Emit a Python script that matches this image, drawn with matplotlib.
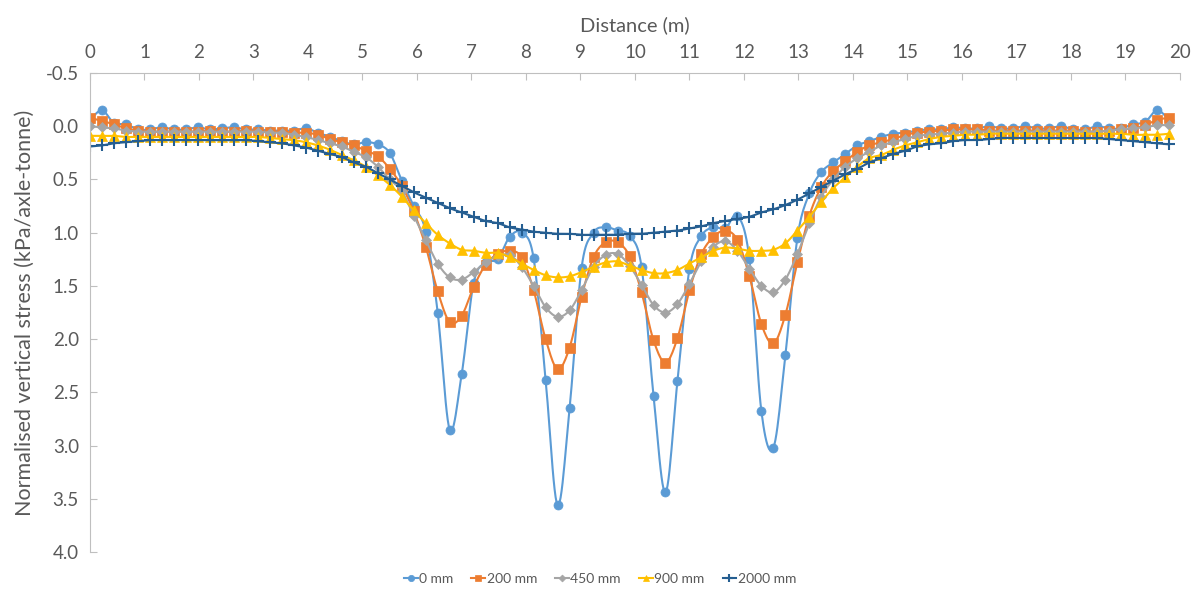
import numpy as np
import matplotlib
matplotlib.use('Agg')
import matplotlib.pyplot as plt

# distance along the section, one reading every 0.22 m
distance = np.round(np.arange(91) * 0.22, 2)

stress_0 = [-0.06, -0.15, -0.03, -0.02, 0.03, 0.03, 0.01, 0.03, 0.03, 0.01,
            0.03, 0.02, 0.01, 0.03, 0.03, 0.04, 0.04, 0.04, 0.02, 0.06,
            0.10, 0.14, 0.17, 0.15, 0.17, 0.25, 0.51, 0.75, 0.99, 1.75,
            2.85, 2.33, 1.47, 1.28, 1.25, 1.04, 1.00, 1.24, 2.38, 3.56,
            2.65, 1.33, 1.00, 0.95, 0.98, 1.03, 1.32, 2.53, 3.44, 2.39,
            1.34, 1.03, 0.95, 0.96, 0.84, 1.25, 2.68, 3.02, 2.15, 1.05,
            0.63, 0.43, 0.34, 0.26, 0.18, 0.14, 0.10, 0.07, 0.06, 0.04,
            0.03, 0.03, 0.01, 0.02, 0.02, 0.00, 0.02, 0.02, 0.00, 0.02,
            0.02, 0.00, 0.03, 0.03, 0.00, 0.02, 0.02, -0.02, -0.04, -0.15,
            -0.06]
stress_200 = [-0.08, -0.05, -0.02, 0.02, 0.04, 0.05, 0.05, 0.05, 0.05, 0.05,
              0.04, 0.05, 0.05, 0.04, 0.05, 0.05, 0.05, 0.06, 0.06, 0.08,
              0.12, 0.15, 0.18, 0.23, 0.28, 0.40, 0.56, 0.80, 1.13, 1.55,
              1.84, 1.78, 1.51, 1.30, 1.20, 1.17, 1.23, 1.54, 2.00, 2.28,
              2.08, 1.60, 1.23, 1.09, 1.09, 1.22, 1.56, 2.01, 2.22, 1.99,
              1.54, 1.20, 1.04, 0.98, 1.07, 1.41, 1.86, 2.04, 1.77, 1.28,
              0.84, 0.57, 0.42, 0.33, 0.24, 0.18, 0.15, 0.12, 0.08, 0.06,
              0.05, 0.04, 0.03, 0.03, 0.03, 0.04, 0.04, 0.04, 0.04, 0.04,
              0.04, 0.04, 0.04, 0.05, 0.05, 0.04, 0.03, 0.02, -0.01, -0.06,
              -0.08]
stress_450 = [0.00, 0.01, 0.02, 0.04, 0.05, 0.05, 0.05, 0.05, 0.05, 0.05,
              0.05, 0.05, 0.05, 0.05, 0.05, 0.06, 0.06, 0.08, 0.10, 0.13,
              0.16, 0.19, 0.24, 0.29, 0.38, 0.50, 0.61, 0.84, 1.07, 1.29,
              1.42, 1.44, 1.37, 1.28, 1.22, 1.21, 1.32, 1.50, 1.70, 1.79,
              1.73, 1.54, 1.32, 1.21, 1.20, 1.31, 1.49, 1.68, 1.75, 1.67,
              1.48, 1.27, 1.13, 1.08, 1.17, 1.34, 1.50, 1.56, 1.44, 1.20,
              0.91, 0.66, 0.50, 0.38, 0.30, 0.24, 0.18, 0.15, 0.12, 0.09,
              0.08, 0.07, 0.06, 0.05, 0.05, 0.05, 0.05, 0.05, 0.05, 0.05,
              0.05, 0.05, 0.05, 0.05, 0.05, 0.04, 0.03, 0.02, 0.01, -0.01,
              -0.01]
stress_900 = [0.09, 0.09, 0.09, 0.10, 0.10, 0.10, 0.10, 0.10, 0.10, 0.10,
              0.10, 0.10, 0.10, 0.10, 0.10, 0.11, 0.12, 0.13, 0.15, 0.18,
              0.22, 0.27, 0.32, 0.38, 0.46, 0.55, 0.66, 0.79, 0.91, 1.02,
              1.10, 1.16, 1.17, 1.19, 1.19, 1.23, 1.29, 1.35, 1.40, 1.42,
              1.41, 1.37, 1.32, 1.28, 1.27, 1.31, 1.35, 1.38, 1.38, 1.35,
              1.29, 1.23, 1.17, 1.14, 1.15, 1.17, 1.17, 1.16, 1.10, 0.98,
              0.85, 0.71, 0.58, 0.48, 0.38, 0.30, 0.27, 0.22, 0.18, 0.15,
              0.12, 0.10, 0.09, 0.08, 0.08, 0.07, 0.07, 0.07, 0.07, 0.07,
              0.07, 0.07, 0.07, 0.07, 0.07, 0.07, 0.07, 0.08, 0.08, 0.08,
              0.07]
stress_2000 = [0.19, 0.18, 0.16, 0.15, 0.14, 0.13, 0.13, 0.13, 0.13, 0.13,
               0.13, 0.13, 0.13, 0.13, 0.14, 0.15, 0.16, 0.18, 0.20, 0.23,
               0.26, 0.29, 0.34, 0.38, 0.44, 0.50, 0.56, 0.62, 0.67, 0.72,
               0.77, 0.81, 0.85, 0.89, 0.91, 0.95, 0.97, 0.99, 1.00, 1.01,
               1.01, 1.02, 1.02, 1.02, 1.02, 1.01, 1.01, 1.00, 0.99, 0.98,
               0.96, 0.94, 0.91, 0.89, 0.87, 0.85, 0.81, 0.78, 0.74, 0.69,
               0.63, 0.57, 0.51, 0.45, 0.40, 0.34, 0.30, 0.26, 0.23, 0.19,
               0.17, 0.16, 0.14, 0.13, 0.13, 0.12, 0.11, 0.11, 0.11, 0.11,
               0.11, 0.11, 0.11, 0.11, 0.11, 0.12, 0.13, 0.14, 0.15, 0.16,
               0.17]

labels = ['0 mm', '200 mm', '450 mm', '900 mm', '2000 mm']
colors = ['#5B9BD5', '#ED7D31', '#A5A5A5', '#FFC000', '#255E91']
markers = ['o', 's', 'D', '^', '+']
msizes = [6.5, 6.5, 5, 7, 9]


def smooth(x, y, n=12):
    # Catmull-Rom curve through the points (what Excel's smoothed line does)
    x = np.asarray(x, float)
    y = np.asarray(y, float)
    px = np.concatenate([[x[0]], x, [x[-1]]])
    py = np.concatenate([[y[0]], y, [y[-1]]])
    t = np.linspace(0, 1, n, endpoint=False)
    xs, ys = [], []
    for i in range(len(x) - 1):
        for p, out in ((px, xs), (py, ys)):
            p0, p1, p2, p3 = p[i], p[i + 1], p[i + 2], p[i + 3]
            out.append(0.5 * (2 * p1 + (-p0 + p2) * t
                              + (2 * p0 - 5 * p1 + 4 * p2 - p3) * t ** 2
                              + (-p0 + 3 * p1 - 3 * p2 + p3) * t ** 3))
    xs.append([x[-1]])
    ys.append([y[-1]])
    return np.concatenate(xs), np.concatenate(ys), list(range(0, len(x) * n, n))


plt.rcParams['font.family'] = ['Lato', 'DejaVu Sans']
fig = plt.figure(figsize=(12, 5.92), dpi=100)
ax = fig.add_axes([0.075, 0.0676, 0.9083, 0.809])

series = [stress_0, stress_200, stress_450, stress_900, stress_2000]
for s, lab, c, m, ms in zip(series, labels, colors, markers, msizes):
    xs, ys, idx = smooth(distance, s)
    ax.plot(xs, ys, color=c, lw=1.5, marker=m, markersize=ms, markevery=idx,
            markeredgewidth=1.5 if m == '+' else 0.5, label=lab)

ax.set_xlim(0, 20)
ax.set_ylim(4.0, -0.5)
ax.set_xticks(range(0, 21))
ax.set_yticks(np.arange(-0.5, 4.01, 0.5))
ax.yaxis.set_major_formatter(matplotlib.ticker.FormatStrFormatter('%.1f'))
ax.xaxis.tick_top()
ax.xaxis.set_label_position('top')
ax.set_xlabel('Distance (m)', fontsize=14.5, color='#595959', labelpad=9)
ax.set_ylabel('Normalised vertical stress (kPa/axle-tonne)', fontsize=15.5,
              color='#595959', labelpad=8)
ax.tick_params(axis='both', direction='in', length=5, color='#BFBFBF',
               labelcolor='#595959', labelsize=13.5)
ax.tick_params(axis='x', pad=9)
ax.tick_params(axis='y', pad=8)
for side in ['bottom', 'right']:
    ax.spines[side].set_visible(False)
for side in ['top', 'left']:
    ax.spines[side].set_color('#BFBFBF')

fig.legend(loc='center', bbox_to_anchor=(0.5, 0.022), ncol=5, frameon=False,
           fontsize=10, handlelength=1.0, handletextpad=0.1, columnspacing=1.3,
           markerscale=0.7, labelcolor='#595959')

fig.savefig('out.png', dpi=100)
